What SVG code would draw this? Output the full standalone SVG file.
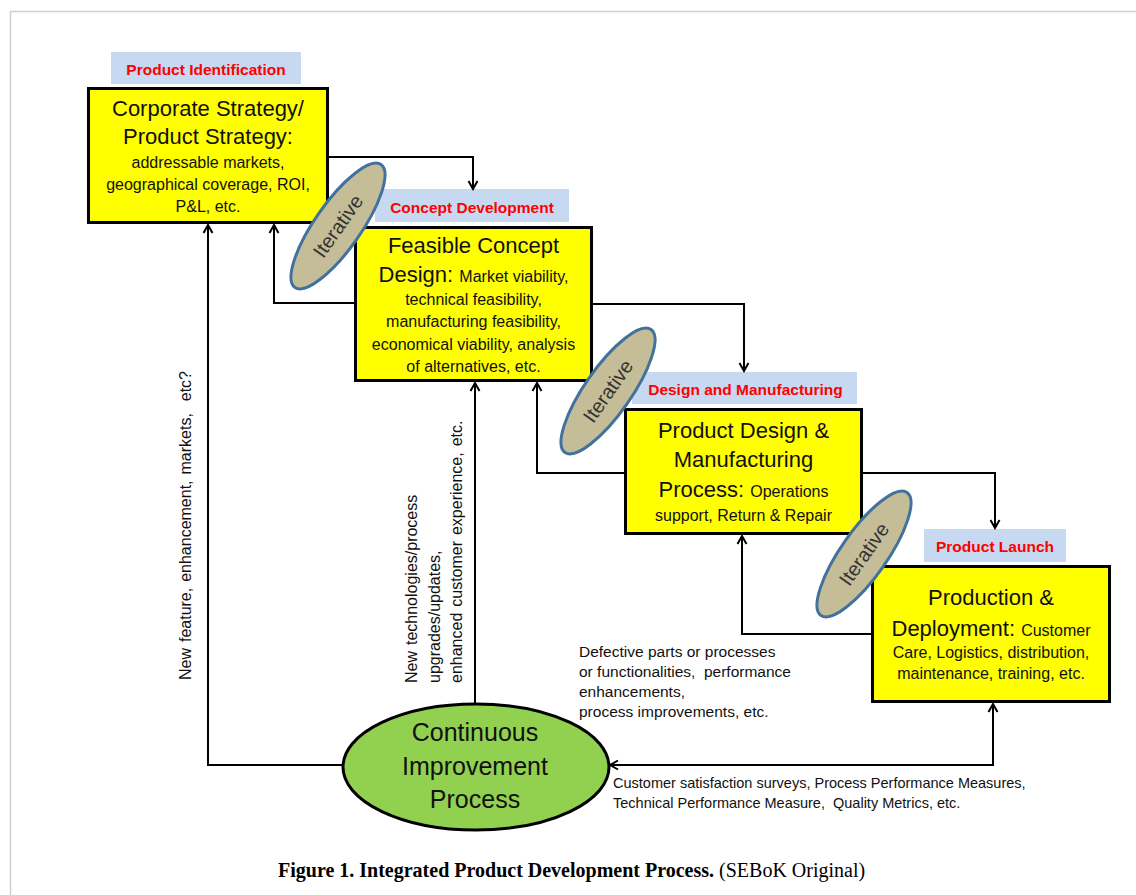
<svg xmlns="http://www.w3.org/2000/svg" width="1136" height="895" viewBox="0 0 1136 895">
<defs>
<style>
.box{fill:#FFFF00;stroke:#000;stroke-width:3}
.lbl{fill:#C6D9F1}
.lt{font-family:"Liberation Sans",Arial,sans-serif;font-weight:bold;font-size:15.5px;fill:#FF0000;text-anchor:middle}
.big{font-family:"Liberation Sans",Arial,sans-serif;font-size:22px;fill:#111}
.sm{font-size:16px}
.c{text-anchor:middle}
.it{fill:#C4BD97;stroke:#41719C;stroke-width:3}
.itt{font-family:"Liberation Sans",Arial,sans-serif;font-size:20px;fill:#333;text-anchor:middle}
.conn{fill:none;stroke:#000;stroke-width:2}
.note{font-family:"Liberation Sans",Arial,sans-serif;fill:#111}
</style>
<marker id="arr" viewBox="0 0 12 12" refX="10.5" refY="6" markerWidth="12" markerHeight="12" markerUnits="userSpaceOnUse" orient="auto-start-reverse">
<path d="M2.5,1.5 L10.5,6 L2.5,10.5" fill="none" stroke="#000" stroke-width="2"/>
</marker>
</defs>
<rect width="1136" height="895" fill="#fff"/>
<path d="M10.5,895 V11.5 H1136" fill="none" stroke="#CFCFCF" stroke-width="1.5"/>

<g id="product-identification">
<rect class="lbl" x="111" y="52" width="190" height="32"/>
<text class="lt" x="206" y="74.5">Product Identification</text>
<rect class="box" x="88.5" y="88.5" width="239" height="134"/>
<text class="big c" x="208" y="115.5">Corporate Strategy/</text>
<text class="big c" x="208" y="144">Product Strategy:</text>
<text class="big c sm" x="208" y="168">addressable markets,</text>
<text class="big c sm" x="208" y="190">geographical coverage, ROI,</text>
<text class="big c sm" x="208" y="212">P&amp;L, etc.</text>
</g>

<g id="concept-development">
<rect class="lbl" x="375" y="189" width="194" height="33"/>
<text class="lt" x="472" y="212.5">Concept Development</text>
<rect class="box" x="355.5" y="227.5" width="236" height="153"/>
<text class="big c" x="473.5" y="253">Feasible Concept</text>
<text class="big c" x="473.5" y="282">Design: <tspan class="sm">Market viability,</tspan></text>
<text class="big c sm" x="473.5" y="305">technical feasibility,</text>
<text class="big c sm" x="473.5" y="327">manufacturing feasibility,</text>
<text class="big c sm" x="473.5" y="350">economical viability, analysis</text>
<text class="big c sm" x="473.5" y="372">of alternatives, etc.</text>
</g>

<g id="design-manufacturing">
<rect class="lbl" x="632" y="372" width="225" height="32"/>
<text class="lt" x="745.5" y="394.5">Design and Manufacturing</text>
<rect class="box" x="625.5" y="409.5" width="236" height="124"/>
<text class="big c" x="743.5" y="438">Product Design &amp;</text>
<text class="big c" x="743.5" y="467">Manufacturing</text>
<text class="big c" x="743.5" y="497">Process: <tspan class="sm">Operations</tspan></text>
<text class="big c sm" x="743.5" y="521">support, Return &amp; Repair</text>
</g>

<g id="product-launch">
<rect class="lbl" x="924" y="529" width="142" height="33"/>
<text class="lt" x="995" y="551.5">Product Launch</text>
<rect class="box" x="872.5" y="566.5" width="237" height="135"/>
<text class="big c" x="991" y="605">Production &amp;</text>
<text class="big c" x="991" y="636">Deployment: <tspan class="sm">Customer</tspan></text>
<text class="big c sm" x="991" y="658">Care, Logistics, distribution,</text>
<text class="big c sm" x="991" y="679">maintenance, training, etc.</text>
</g>

<g id="continuous-improvement">
<ellipse cx="476" cy="767" rx="133" ry="63" fill="#92D050" stroke="#000" stroke-width="3"/>
<text class="big c" style="font-size:25px" x="475" y="741">Continuous</text>
<text class="big c" style="font-size:25px" x="475" y="775">Improvement</text>
<text class="big c" style="font-size:25px" x="475" y="808">Process</text>
</g>

<g id="connectors">
<path class="conn" d="M329,157 H473 V189" marker-end="url(#arr)"/>
<path class="conn" d="M593,304 H744 V371" marker-end="url(#arr)"/>
<path class="conn" d="M863,473 H995 V528" marker-end="url(#arr)"/>
<path class="conn" d="M354,303 H274 V225" marker-end="url(#arr)"/>
<path class="conn" d="M624,473 H537 V383" marker-end="url(#arr)"/>
<path class="conn" d="M871,634 H742 V536" marker-end="url(#arr)"/>
<path class="conn" d="M343,765 H208 V225" marker-end="url(#arr)"/>
<path class="conn" d="M475,704 V383" marker-end="url(#arr)"/>
<path class="conn" d="M610,765 H993 V704" marker-start="url(#arr)" marker-end="url(#arr)"/>
</g>

<g id="iterative-1" transform="translate(338,226) rotate(-55)">
<ellipse class="it" cx="0" cy="0" rx="75" ry="23"/>
<text class="itt" x="0" y="7">Iterative</text>
</g>
<g id="iterative-2" transform="translate(608,391) rotate(-55)">
<ellipse class="it" cx="0" cy="0" rx="75" ry="23"/>
<text class="itt" x="0" y="7">Iterative</text>
</g>
<g id="iterative-3" transform="translate(864,554) rotate(-55)">
<ellipse class="it" cx="0" cy="0" rx="75" ry="23"/>
<text class="itt" x="0" y="7">Iterative</text>
</g>

<g id="edge-labels">
<text class="note" font-size="16" word-spacing="1.5" xml:space="preserve" transform="translate(191,680) rotate(-90)">New feature, enhancement, markets,  etc?</text>
<text class="note" font-size="16" word-spacing="1.5" transform="translate(417,683) rotate(-90)">New technologies/process</text>
<text class="note" font-size="16" word-spacing="1.5" transform="translate(439.5,683) rotate(-90)">upgrades/updates,</text>
<text class="note" font-size="16" word-spacing="1.5" transform="translate(462,683) rotate(-90)">enhanced customer experience, etc.</text>
<text class="note" font-size="15.5" x="579" y="657">Defective parts or processes</text>
<text class="note" font-size="15.5" x="579" y="677" xml:space="preserve">or functionalities,  performance</text>
<text class="note" font-size="15.5" x="579" y="697">enhancements,</text>
<text class="note" font-size="15.5" x="579" y="717">process improvements, etc.</text>
<text class="note" font-size="14.5" x="613" y="788">Customer satisfaction surveys, Process Performance Measures,</text>
<text class="note" font-size="14.5" x="613" y="808" xml:space="preserve">Technical Performance Measure,  Quality Metrics, etc.</text>
</g>

<text x="278" y="877" font-family="'Liberation Serif','Times New Roman',serif" font-size="20" fill="#000"><tspan font-weight="bold">Figure 1. Integrated Product Development Process.</tspan> (SEBoK Original)</text>
</svg>
